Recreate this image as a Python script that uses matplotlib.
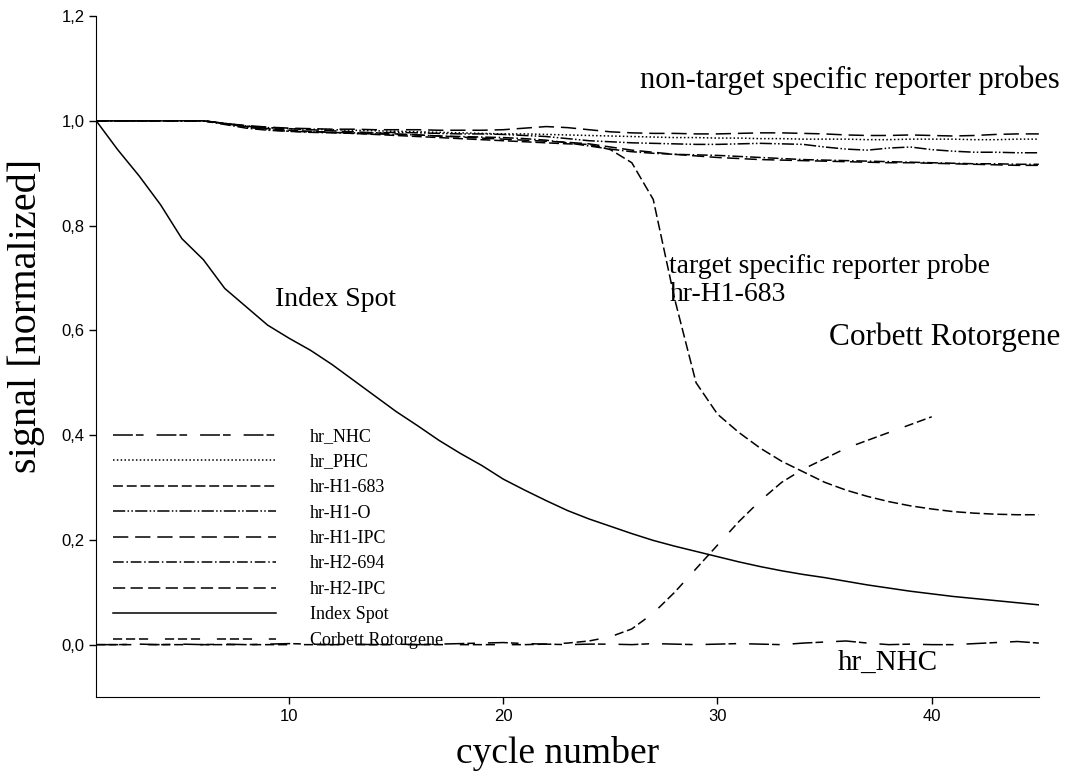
import matplotlib
matplotlib.use("Agg")
import matplotlib.pyplot as plt

plt.rcParams['font.family'] = ['Liberation Serif', 'DejaVu Serif']

cycles = list(range(1, 46))
cycles_corbett = list(range(1, 41))

hr_nhc = [0.000, 0.000, 0.001, 0.000, 0.001, 0.000, 0.001, 0.000, 0.001, 0.002,
          0.001, 0.000, 0.001, 0.000, 0.001, 0.000, 0.001, 0.002, 0.003, 0.004,
          0.002, 0.001, 0.000, 0.001, 0.001, 0.000, 0.002, 0.001, 0.000, 0.001,
          0.002, 0.001, 0.000, 0.003, 0.005, 0.007, 0.003, 0.000, 0.001, 0.000,
          0.000, 0.002, 0.004, 0.006, 0.003]
hr_phc = [1.000, 1.000, 1.000, 1.000, 1.000, 1.000, 0.995, 0.990, 0.987, 0.985,
          0.984, 0.983, 0.982, 0.981, 0.980, 0.979, 0.978, 0.977, 0.976, 0.975,
          0.975, 0.974, 0.973, 0.972, 0.971, 0.970, 0.969, 0.968, 0.968, 0.967,
          0.967, 0.966, 0.966, 0.965, 0.965, 0.965, 0.964, 0.964, 0.965, 0.965,
          0.965, 0.964, 0.964, 0.965, 0.965]
hr_h1_683 = [1.000, 1.000, 1.000, 1.000, 1.000, 1.000, 0.995, 0.990, 0.985, 0.982,
             0.980, 0.978, 0.976, 0.974, 0.972, 0.970, 0.968, 0.966, 0.964, 0.962,
             0.960, 0.958, 0.956, 0.955, 0.945, 0.920, 0.850, 0.660, 0.500, 0.440,
             0.405, 0.375, 0.350, 0.330, 0.310, 0.295, 0.283, 0.273, 0.265, 0.259,
             0.254, 0.251, 0.249, 0.248, 0.248]
hr_h1_o = [1.000, 1.000, 1.000, 1.000, 1.000, 1.000, 0.995, 0.988, 0.983, 0.980,
           0.979, 0.978, 0.977, 0.977, 0.978, 0.977, 0.976, 0.975, 0.975, 0.974,
           0.972, 0.970, 0.966, 0.962, 0.960, 0.958, 0.957, 0.956, 0.955, 0.955,
           0.956, 0.957, 0.956, 0.955, 0.950, 0.946, 0.944, 0.948, 0.950, 0.945,
           0.942, 0.940, 0.940, 0.939, 0.939]
hr_h1_ipc = [1.000, 1.000, 1.000, 1.000, 1.000, 1.000, 0.995, 0.991, 0.988, 0.986,
             0.985, 0.984, 0.984, 0.983, 0.983, 0.983, 0.982, 0.982, 0.982, 0.983,
             0.986, 0.989, 0.987, 0.983, 0.979, 0.977, 0.976, 0.976, 0.975, 0.975,
             0.976, 0.977, 0.977, 0.976, 0.975, 0.973, 0.972, 0.972, 0.973, 0.972,
             0.971, 0.972, 0.974, 0.975, 0.975]
hr_h2_694 = [1.000, 1.000, 1.000, 1.000, 1.000, 1.000, 0.993, 0.986, 0.982, 0.980,
             0.978, 0.977, 0.976, 0.975, 0.974, 0.973, 0.971, 0.970, 0.969, 0.968,
             0.966, 0.963, 0.958, 0.952, 0.946, 0.941, 0.938, 0.936, 0.935, 0.934,
             0.932, 0.930, 0.928, 0.926, 0.925, 0.924, 0.923, 0.922, 0.921, 0.920,
             0.919, 0.918, 0.918, 0.917, 0.917]
hr_h2_ipc = [1.000, 1.000, 1.000, 1.000, 1.000, 1.000, 0.994, 0.989, 0.987, 0.985,
             0.983, 0.981, 0.979, 0.977, 0.975, 0.973, 0.971, 0.969, 0.967, 0.965,
             0.963, 0.961, 0.959, 0.956, 0.950, 0.944, 0.940, 0.936, 0.933, 0.930,
             0.928, 0.926, 0.925, 0.924, 0.923, 0.922, 0.921, 0.920, 0.920, 0.919,
             0.918, 0.917, 0.916, 0.915, 0.915]
index_spot = [1.000, 0.945, 0.895, 0.840, 0.775, 0.735, 0.680, 0.645, 0.610, 0.585,
              0.562, 0.535, 0.505, 0.475, 0.445, 0.418, 0.390, 0.365, 0.342, 0.316,
              0.295, 0.275, 0.256, 0.240, 0.226, 0.212, 0.199, 0.188, 0.178, 0.168,
              0.158, 0.149, 0.141, 0.134, 0.128, 0.121, 0.114, 0.108, 0.102, 0.097,
              0.092, 0.088, 0.084, 0.080, 0.076]
corbett = [0.000, 0.000, 0.000, 0.000, 0.000, 0.000, 0.000, 0.000, 0.000, 0.000,
           0.000, 0.000, 0.000, 0.000, 0.000, 0.000, 0.000, 0.000, 0.000, 0.000,
           0.000, 0.001, 0.003, 0.007, 0.015, 0.030, 0.060, 0.100, 0.145, 0.190,
           0.235, 0.275, 0.310, 0.335, 0.355, 0.375, 0.390, 0.405, 0.420, 0.435]

series = [
    ("hr_NHC", cycles, hr_nhc, (0, (13, 2, 5, 8.5))),
    ("hr_PHC", cycles, hr_phc, (0, (1, 1.5))),
    ("hr-H1-683", cycles, hr_h1_683, (0, (6.5, 2.5))),
    ("hr-H1-O", cycles, hr_h1_o, (0, (8, 1.5, 1, 1.5, 1, 1.5))),
    ("hr-H1-IPC", cycles, hr_h1_ipc, (0, (10, 4.5))),
    ("hr-H2-694", cycles, hr_h2_694, (0, (7, 1.8, 1, 1.8))),
    ("hr-H2-IPC", cycles, hr_h2_ipc, (0, (8, 3.5))),
    ("Index Spot", cycles, index_spot, '-'),
    ("Corbett Rotorgene", cycles_corbett, corbett, (0, (6, 2.5, 6, 2.5, 6, 11))),
]

fig = plt.figure(figsize=(10.81, 7.75), dpi=100)
ax = fig.add_axes([0.089, 0.1006, 0.872, 0.8787])

for name, x, y, ls in series:
    ax.plot(x, y, color='black', linestyle=ls, linewidth=1.1, label=name)

ax.set_xlim(1, 45)
ax.set_ylim(-0.1, 1.2)
ax.set_xticks([10, 20, 30, 40])
ax.set_yticks([0.0, 0.2, 0.4, 0.6, 0.8, 1.0, 1.2])
ax.set_yticklabels(['0,0', '0,2', '0,4', '0,6', '0,8', '1,0', '1,2'])
for lab in ax.get_xticklabels() + ax.get_yticklabels():
    lab.set_fontfamily('Liberation Sans')
    lab.set_fontsize(12)
ax.tick_params(direction='out', length=5, width=1)
ax.spines['top'].set_visible(False)
ax.spines['right'].set_visible(False)

# label anchors: x label by its top edge, y label by its right edge
ax.set_xlabel('cycle number', fontsize=27)
ax.set_ylabel('signal [normalized]', fontsize=29)
ax.xaxis.set_label_coords(0.489, -0.057)
ax.yaxis.set_label_coords(-0.054, 0.56)

ax.text(26.4, 1.078, 'non-target specific reporter probes', fontsize=22, va='center')
ax.text(27.75, 0.695, 'target specific reporter probe\nhr-H1-683', fontsize=20,
        va='center', linespacing=1.2)
ax.text(9.35, 0.658, 'Index Spot', fontsize=20, va='center')
ax.text(35.2, 0.586, 'Corbett Rotorgene', fontsize=22.5, va='center')
ax.text(35.6, -0.034, 'hr_NHC', fontsize=21, va='center')

ax.legend(loc='upper left', bbox_to_anchor=(0.018, 0.395), frameon=False,
          fontsize=13, handlelength=9.0, handletextpad=1.9, labelspacing=0.47,
          borderpad=0, borderaxespad=0)

fig.savefig('out.png', dpi=100)
